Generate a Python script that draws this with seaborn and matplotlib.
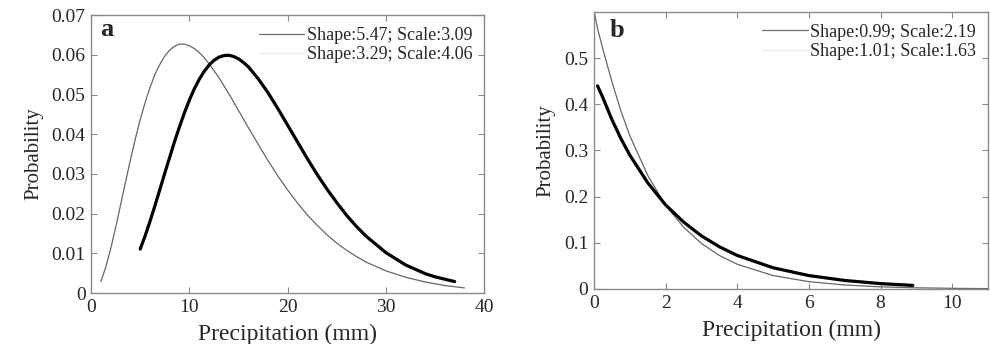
import numpy as np
import pandas as pd
import matplotlib
matplotlib.use("Agg")
import matplotlib.pyplot as plt
import seaborn as sns
from matplotlib.lines import Line2D

# ---- Panel a data ----
a_thin_x = [1, 1.5, 2, 2.5, 3, 3.5, 4, 4.5, 5, 5.5, 6, 6.5, 7, 7.5, 8, 8.5, 9, 9.5, 10, 10.5,
            11, 11.5, 12, 13, 14, 15, 16, 17, 18, 19, 20, 21, 22, 23, 24, 25, 26, 27, 28,
            30, 32, 34, 36, 38]
a_thin_y = [0.0029, 0.0066, 0.0112, 0.0165, 0.0222, 0.0279, 0.0335, 0.0388, 0.0437, 0.0480,
            0.0518, 0.0551, 0.0576, 0.0597, 0.0612, 0.0622, 0.0627, 0.0627, 0.0623, 0.0616,
            0.0606, 0.0593, 0.0578, 0.0543, 0.0503, 0.0460, 0.0417, 0.0375, 0.0334, 0.0295,
            0.0260, 0.0227, 0.0197, 0.0171, 0.0147, 0.0126, 0.0108, 0.0092, 0.0078,
            0.0056, 0.0040, 0.0028, 0.0019, 0.0013]
a_thick_x = [5, 5.5, 6, 6.5, 7, 7.5, 8, 8.5, 9, 9.5, 10, 10.5, 11, 11.5, 12, 12.5, 13, 13.5,
             14, 14.5, 15, 15.5, 16, 17, 18, 19, 20, 21, 22, 23, 24, 25, 26, 27, 28, 30,
             32, 34, 35, 37]
a_thick_y = [0.0111, 0.0144, 0.0181, 0.0220, 0.0261, 0.0302, 0.0342, 0.0382, 0.0419, 0.0454,
             0.0486, 0.0514, 0.0538, 0.0558, 0.0574, 0.0586, 0.0594, 0.0598, 0.0599, 0.0596,
             0.0590, 0.0581, 0.0570, 0.0540, 0.0505, 0.0465, 0.0423, 0.0381, 0.0339, 0.0299,
             0.0262, 0.0228, 0.0196, 0.0168, 0.0143, 0.0102, 0.0071, 0.0049, 0.0041, 0.0029]
a_labels = ["Shape:5.47; Scale:3.09", "Shape:3.29; Scale:4.06"]

# ---- Panel b data ----
b_thin_x = [0.02, 0.1, 0.25, 0.5, 0.75, 1, 1.5, 2, 2.5, 3, 3.5, 4, 5, 6, 7, 8, 9, 10, 11]
b_thin_y = [0.595, 0.564, 0.519, 0.449, 0.386, 0.332, 0.246, 0.181, 0.134, 0.0985, 0.0726,
            0.0535, 0.0290, 0.0158, 0.0086, 0.0046, 0.0025, 0.0014, 0.0007]
b_thick_x = [0.1, 0.25, 0.5, 0.75, 1, 1.5, 2, 2.5, 3, 3.5, 4, 5, 6, 7, 8, 8.9]
b_thick_y = [0.440, 0.414, 0.367, 0.326, 0.290, 0.230, 0.182, 0.145, 0.115, 0.0914, 0.0726,
             0.0459, 0.0290, 0.0184, 0.0116, 0.0077]
b_labels = ["Shape:0.99; Scale:2.19", "Shape:1.01; Scale:1.63"]

sns.set_style("ticks")
plt.rcParams['font.family'] = ['Liberation Serif', 'DejaVu Serif']
plt.rcParams['mathtext.fontset'] = 'stix'

fig = plt.figure(figsize=(9.9, 3.44), dpi=100)
ax1 = fig.add_axes([0.092, 0.148, 0.397, 0.808])
ax2 = fig.add_axes([0.600, 0.160, 0.398, 0.805])

thin_col = "#666666"
spine_col = "#8a8a8a"

def draw(ax, tx, ty, kx, ky):
    df_thin = pd.DataFrame({"x": tx, "y": ty})
    df_thick = pd.DataFrame({"x": kx, "y": ky})
    sns.lineplot(data=df_thin, x="x", y="y", ax=ax, color=thin_col, linewidth=0.9)
    sns.lineplot(data=df_thick, x="x", y="y", ax=ax, color="black", linewidth=2.3)

draw(ax1, a_thin_x, a_thin_y, a_thick_x, a_thick_y)
draw(ax2, b_thin_x, b_thin_y, b_thick_x, b_thick_y)

ax1.set_xlim(0, 40)
ax1.set_ylim(0, 0.07)
ax1.set_xticks([0, 10, 20, 30, 40])
ax1.set_yticks([0, 0.01, 0.02, 0.03, 0.04, 0.05, 0.06, 0.07])
ax1.set_yticklabels(["0", "0.01", "0.02", "0.03", "0.04", "0.05", "0.06", "0.07"])

ax2.set_xlim(0, 11)
ax2.set_ylim(0, 0.6)
ax2.set_xticks([0, 2, 4, 6, 8, 10])
ax2.set_yticks([0, 0.1, 0.2, 0.3, 0.4, 0.5])
ax2.set_yticklabels(["0", "0.1", "0.2", "0.3", "0.4", "0.5"])

for ax, letter, lx, ly, labels in [(ax1, "a", 0.022, 0.925, a_labels), (ax2, "b", 0.04, 0.91, b_labels)]:
    for s in ax.spines.values():
        s.set_color(spine_col)
        s.set_linewidth(1.0)
    ax.tick_params(direction="in", top=True, right=True, length=4, width=0.8,
                   color=spine_col, labelsize=14, pad=4)
    ax.set_xlabel("Precipitation (mm)", fontsize=17, labelpad=6)
    ax.set_ylabel("Probability", fontsize=15, labelpad=6)
    ax.text(lx, ly, letter, transform=ax.transAxes, fontsize=19, fontweight="bold",
            ha="left", va="baseline")
    handles = [Line2D([], [], color="#707070", linewidth=0.9),
               Line2D([], [], color="#ececec", linewidth=0.9)]
    ax.legend(handles, labels, loc="upper right", frameon=False, fontsize=13,
              handlelength=2.5, handletextpad=0.15, borderaxespad=0.35,
              labelspacing=0.12, borderpad=0.3)

fig.savefig("out.png", dpi=100)
